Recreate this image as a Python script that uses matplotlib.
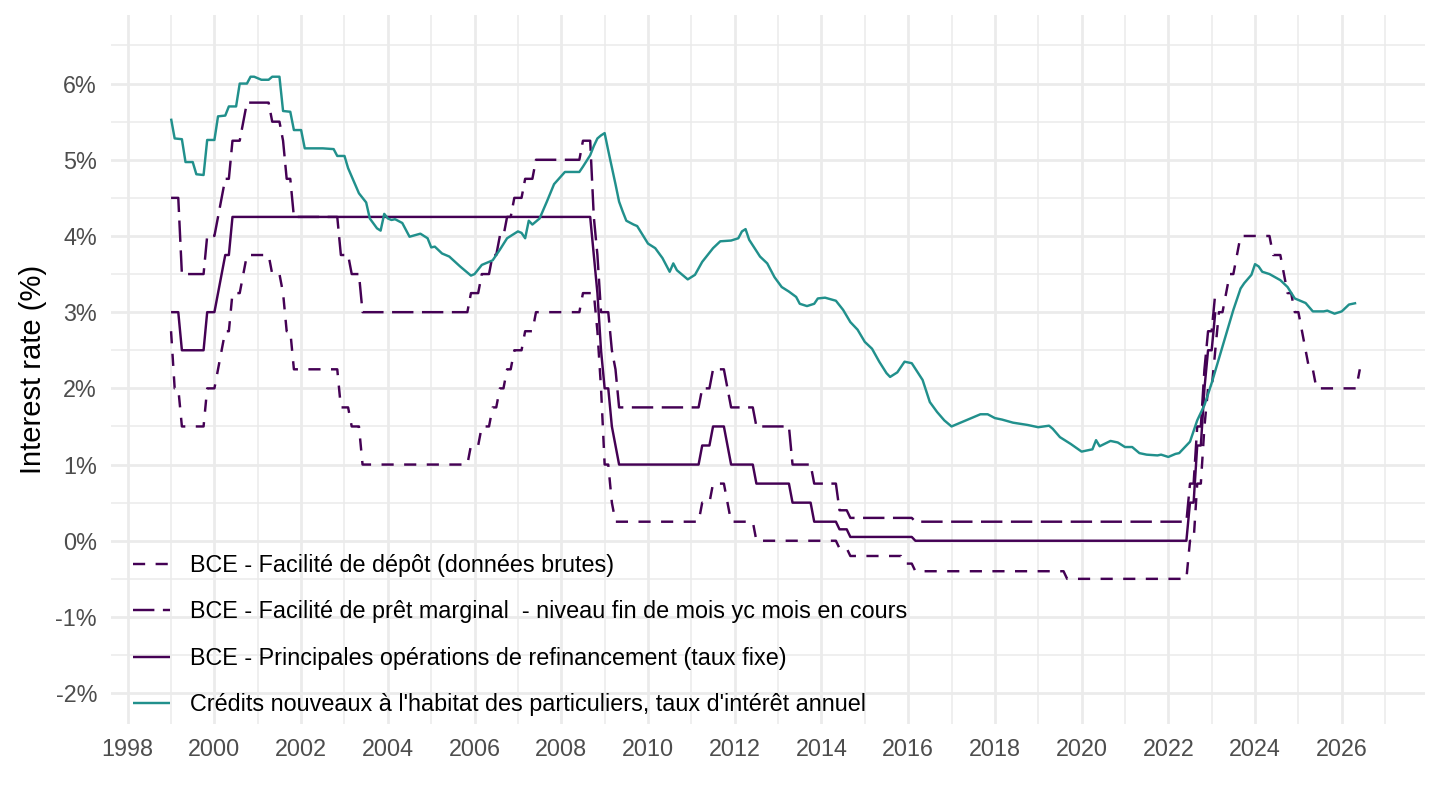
import matplotlib
matplotlib.use("Agg")
import matplotlib.pyplot as plt
from matplotlib.ticker import FixedLocator, FuncFormatter
import pandas as pd

plt.rcParams['font.family'] = ['Liberation Sans', 'DejaVu Sans']

# ---------------- data ----------------
# ECB rates: month of change (end-of-month level) and new level
df_months = ["1999-01", "1999-02", "1999-04", "1999-11", "2000-02", "2000-03", "2000-04", "2000-06",
             "2000-09", "2000-10", "2001-05", "2001-08", "2001-09", "2001-11", "2002-12", "2003-03",
             "2003-06", "2005-12", "2006-03", "2006-06", "2006-08", "2006-10", "2006-12", "2007-03",
             "2007-06", "2008-07", "2008-11", "2008-12", "2009-01", "2009-03", "2009-04", "2011-04",
             "2011-07", "2011-11", "2011-12", "2012-07", "2014-06", "2014-09", "2015-12", "2016-03",
             "2019-09", "2022-07", "2022-09", "2022-11", "2022-12", "2023-02", "2023-03", "2023-05",
             "2023-06", "2023-08", "2023-09", "2024-06", "2024-09", "2024-10", "2024-12", "2025-02",
             "2025-03", "2025-04", "2025-06", "2026-06"]
df_values = [2.75, 2.00, 1.50, 2.00, 2.25, 2.50, 2.75, 3.25,
             3.50, 3.75, 3.50, 3.25, 2.75, 2.25, 1.75, 1.50,
             1.00, 1.25, 1.50, 1.75, 2.00, 2.25, 2.50, 2.75,
             3.00, 3.25, 2.75, 2.00, 1.00, 0.50, 0.25, 0.50,
             0.75, 0.50, 0.25, 0.00, -0.10, -0.20, -0.30, -0.40,
             -0.50, 0.00, 0.75, 1.50, 2.00, 2.50, 3.00, 3.25,
             3.50, 3.75, 4.00, 3.75, 3.50, 3.25, 3.00, 2.75,
             2.50, 2.25, 2.00, 2.25]
df_end = "2026-06"

mlf_months = ["1999-01", "1999-04", "1999-11", "2000-02", "2000-03", "2000-04", "2000-06", "2000-09",
              "2000-10", "2001-05", "2001-08", "2001-09", "2001-11", "2002-12", "2003-03", "2003-06",
              "2005-12", "2006-03", "2006-06", "2006-08", "2006-10", "2006-12", "2007-03", "2007-06",
              "2008-07", "2008-10", "2008-11", "2008-12", "2009-03", "2009-04", "2009-05", "2011-04",
              "2011-07", "2011-11", "2011-12", "2012-07", "2013-05", "2013-11", "2014-06", "2014-09",
              "2016-03", "2022-07", "2022-09", "2022-11", "2022-12", "2023-02"]
mlf_values = [4.50, 3.50, 4.00, 4.25, 4.50, 4.75, 5.25, 5.50,
              5.75, 5.50, 5.25, 4.75, 4.25, 3.75, 3.50, 3.00,
              3.25, 3.50, 3.75, 4.00, 4.25, 4.50, 4.75, 5.00,
              5.25, 4.25, 3.75, 3.00, 2.50, 2.25, 1.75, 2.00,
              2.25, 2.00, 1.75, 1.50, 1.00, 0.75, 0.40, 0.30,
              0.25, 0.75, 1.50, 2.25, 2.75, 3.25]
mlf_end = "2023-02"

mro_months = ["1999-01", "1999-04", "1999-11", "2000-02", "2000-03", "2000-04", "2000-06", "2008-10",
              "2008-11", "2008-12", "2009-01", "2009-03", "2009-04", "2009-05", "2011-04", "2011-07",
              "2011-11", "2011-12", "2012-07", "2013-05", "2013-11", "2014-06", "2014-09", "2016-03",
              "2022-07", "2022-09", "2022-11", "2022-12", "2023-02"]
mro_values = [3.00, 2.50, 3.00, 3.25, 3.50, 3.75, 4.25, 3.75,
              3.25, 2.50, 2.00, 1.50, 1.25, 1.00, 1.25, 1.50,
              1.25, 1.00, 0.75, 0.50, 0.25, 0.15, 0.05, 0.00,
              0.50, 1.25, 2.00, 2.50, 3.00]
mro_end = "2023-02"

# French new housing loans rate
credit_months = ["1999-01", "1999-02", "1999-04", "1999-05", "1999-07", "1999-08", "1999-10", "1999-11",
                 "2000-01", "2000-02", "2000-04", "2000-05", "2000-07", "2000-08", "2000-10", "2000-11",
                 "2000-12", "2001-02", "2001-04", "2001-05", "2001-07", "2001-08", "2001-10", "2001-11",
                 "2002-01", "2002-02", "2002-07", "2002-10", "2002-11", "2003-01", "2003-02", "2003-03",
                 "2003-05", "2003-07", "2003-08", "2003-10", "2003-11", "2003-12", "2004-01", "2004-02",
                 "2004-03", "2004-05", "2004-07", "2004-10", "2004-12", "2005-01", "2005-02", "2005-04",
                 "2005-06", "2005-09", "2005-12", "2006-01", "2006-03", "2006-06", "2006-08", "2006-10",
                 "2007-01", "2007-02", "2007-03", "2007-04", "2007-05", "2007-07", "2007-09", "2007-11",
                 "2008-02", "2008-06", "2008-07", "2008-09", "2008-10", "2008-11", "2008-12", "2009-01",
                 "2009-02", "2009-03", "2009-04", "2009-05", "2009-06", "2009-07", "2009-09", "2009-10",
                 "2010-01", "2010-03", "2010-05", "2010-07", "2010-08", "2010-09", "2010-10", "2010-12",
                 "2011-02", "2011-04", "2011-07", "2011-09", "2011-12", "2012-02", "2012-03", "2012-04",
                 "2012-05", "2012-08", "2012-10", "2012-12", "2013-02", "2013-04", "2013-06", "2013-07",
                 "2013-09", "2013-11", "2013-12", "2014-02", "2014-05", "2014-07", "2014-09", "2014-11",
                 "2015-01", "2015-03", "2015-05", "2015-07", "2015-08", "2015-10", "2015-12", "2016-02",
                 "2016-05", "2016-07", "2016-09", "2016-11", "2017-01", "2017-03", "2017-05", "2017-09",
                 "2017-11", "2018-01", "2018-03", "2018-06", "2018-10", "2019-01", "2019-04", "2019-05",
                 "2019-07", "2019-10", "2020-01", "2020-04", "2020-05", "2020-06", "2020-09", "2020-11",
                 "2021-01", "2021-03", "2021-05", "2021-07", "2021-10", "2021-11", "2022-01", "2022-03",
                 "2022-04", "2022-07", "2022-09", "2022-11", "2023-01", "2023-04", "2023-07", "2023-09",
                 "2023-10", "2023-12", "2024-01", "2024-02", "2024-03", "2024-05", "2024-08", "2024-10",
                 "2024-12", "2025-03", "2025-05", "2025-08", "2025-09", "2025-11", "2026-01", "2026-03",
                 "2026-05"]
credit_values = [5.54, 5.28, 5.27, 4.97, 4.97, 4.81, 4.80, 5.26,
                 5.26, 5.57, 5.58, 5.70, 5.70, 6.00, 6.00, 6.09,
                 6.09, 6.05, 6.05, 6.09, 6.09, 5.64, 5.63, 5.39,
                 5.39, 5.15, 5.15, 5.14, 5.05, 5.05, 4.89, 4.78,
                 4.56, 4.44, 4.23, 4.10, 4.07, 4.29, 4.23, 4.21,
                 4.22, 4.17, 3.99, 4.03, 3.97, 3.85, 3.86, 3.77,
                 3.73, 3.60, 3.48, 3.50, 3.62, 3.68, 3.82, 3.97,
                 4.06, 4.04, 3.97, 4.20, 4.15, 4.23, 4.45, 4.68,
                 4.84, 4.84, 4.91, 5.06, 5.18, 5.28, 5.32, 5.35,
                 5.12, 4.90, 4.68, 4.45, 4.32, 4.20, 4.15, 4.13,
                 3.90, 3.84, 3.71, 3.53, 3.64, 3.55, 3.51, 3.43,
                 3.49, 3.66, 3.84, 3.93, 3.94, 3.97, 4.06, 4.09,
                 3.95, 3.73, 3.64, 3.46, 3.33, 3.27, 3.20, 3.11,
                 3.08, 3.11, 3.18, 3.19, 3.15, 3.03, 2.87, 2.77,
                 2.61, 2.52, 2.35, 2.20, 2.15, 2.21, 2.35, 2.33,
                 2.11, 1.82, 1.69, 1.58, 1.50, 1.54, 1.58, 1.66,
                 1.66, 1.61, 1.59, 1.55, 1.52, 1.49, 1.51, 1.47,
                 1.36, 1.27, 1.17, 1.20, 1.32, 1.24, 1.31, 1.29,
                 1.23, 1.23, 1.15, 1.13, 1.12, 1.13, 1.10, 1.14,
                 1.15, 1.30, 1.58, 1.78, 2.07, 2.55, 3.03, 3.31,
                 3.38, 3.49, 3.63, 3.60, 3.53, 3.50, 3.42, 3.33,
                 3.18, 3.12, 3.01, 3.01, 3.02, 2.98, 3.01, 3.10,
                 3.12]

labels = ["BCE - Facilité de dépôt (données brutes)",
          "BCE - Facilité de prêt marginal  - niveau fin de mois yc mois en cours",
          "BCE - Principales opérations de refinancement (taux fixe)",
          "Crédits nouveaux à l'habitat des particuliers, taux d'intérêt annuel"]

x_ticks = list(range(1998, 2027, 2))
y_ticks = list(range(-2, 7))

PURPLE = "#440154"
TEAL = "#21908C"


def to_year(months):
    p = pd.PeriodIndex(months, freq="M")
    return p.year + (p.month - 1) / 12.0


def monthly_steps(months, values, end):
    s = pd.Series(values, index=pd.PeriodIndex(months, freq="M"))
    full = pd.period_range(s.index[0], pd.Period(end, freq="M"), freq="M")
    s = s.reindex(full).ffill()
    return s.index.year + (s.index.month - 1) / 12.0, s.values


# ---------------- figure ----------------
fig = plt.figure(figsize=(14.4, 8.1), dpi=100)
L, R, T, B = 111, 1425, 15, 724
ax = fig.add_axes([L / 1440, 1 - B / 810, (R - L) / 1440, (B - T) / 810])

ax.set_xlim(1997.615, 2027.92)
ax.set_ylim(-2.405, 6.90)

for s in ax.spines.values():
    s.set_visible(False)

ax.xaxis.set_major_locator(FixedLocator(x_ticks))
ax.xaxis.set_minor_locator(FixedLocator([v + 1 for v in range(1996, 2028, 2)]))
ax.yaxis.set_major_locator(FixedLocator(y_ticks))
ax.yaxis.set_minor_locator(FixedLocator([v + 0.5 for v in range(-3, 7)]))
ax.yaxis.set_major_formatter(FuncFormatter(lambda v, p: f"{int(round(v))}%"))
ax.xaxis.set_major_formatter(FuncFormatter(lambda v, p: f"{int(round(v))}"))

ax.grid(which="major", color="#EBEBEB", linewidth=2.0)
ax.grid(which="minor", color="#EBEBEB", linewidth=1.1)
ax.set_axisbelow(True)
ax.tick_params(which="both", length=0)
ax.tick_params(axis="both", which="major", labelsize=16.8, labelcolor="#4D4D4D", pad=10)

LW = 1.75
x1, y1 = monthly_steps(df_months, df_values, df_end)
x2, y2 = monthly_steps(mlf_months, mlf_values, mlf_end)
x3, y3 = monthly_steps(mro_months, mro_values, mro_end)
x4, y4 = to_year(credit_months), credit_values

l1, = ax.plot(x1, y1, color=PURPLE, lw=LW, dashes=(5.0, 4.3), dash_capstyle="butt",
              label=labels[0])
l2, = ax.plot(x2, y2, color=PURPLE, lw=LW, dashes=(8.8, 3.5), dash_capstyle="butt",
              label=labels[1])
l3, = ax.plot(x3, y3, color=PURPLE, lw=LW, solid_capstyle="butt", label=labels[2])
l4, = ax.plot(x4, y4, color=TEAL, lw=LW, solid_capstyle="butt", label=labels[3])

ax.set_ylabel("Interest rate (%)", fontsize=21, color="black", labelpad=6)

leg = ax.legend(handles=[l1, l2, l3, l4], loc="lower left",
                bbox_to_anchor=(133 / 1440, 94 / 810), bbox_transform=fig.transFigure,
                frameon=False, fontsize=16.8, labelspacing=1.0, handlelength=1.6,
                handletextpad=0.86, borderpad=0, borderaxespad=0)
for t in leg.get_texts():
    t.set_color("black")

fig.savefig("out.png", dpi=100)
